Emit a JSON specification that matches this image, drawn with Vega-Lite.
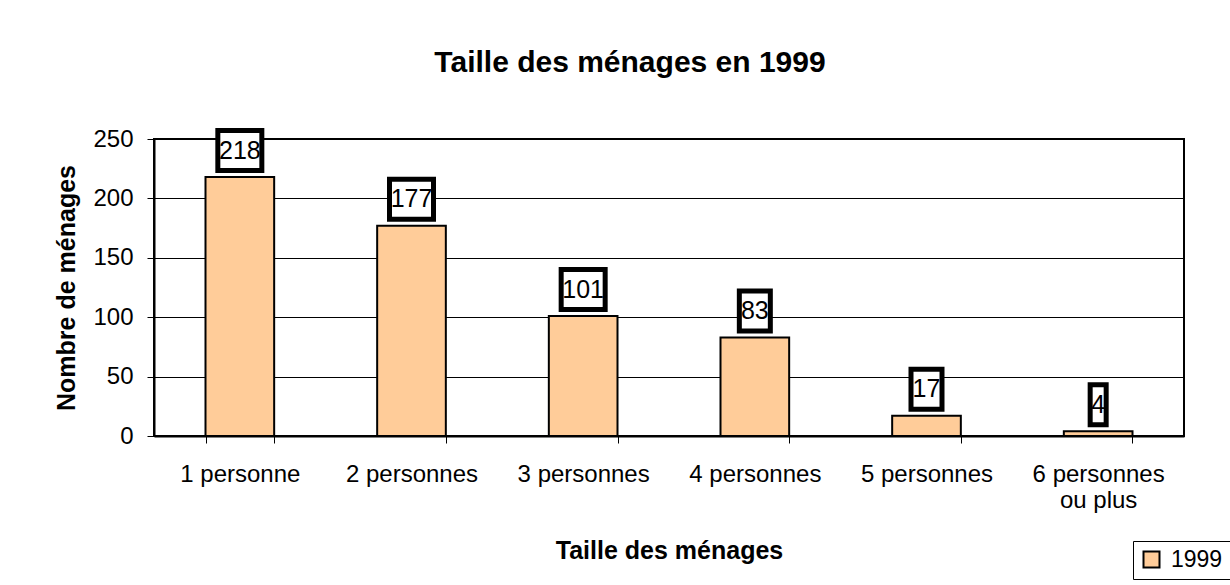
{
  "$schema": "https://vega.github.io/schema/vega-lite/v6.json",
  "width": 1030,
  "height": 297,
  "autosize": {"type": "none"},
  "padding": {"left": 154, "top": 139, "right": 46, "bottom": 149},
  "background": "white",
  "config": {"font": "Liberation Sans", "view": {"stroke": "black", "strokeWidth": 2}},
  "title": {"text": "Taille des ménages en 1999", "fontSize": 30, "fontWeight": "bold", "font": "Liberation Sans", "color": "black", "anchor": "middle", "frame": "group", "dx": -39, "offset": 25, "baseline": "alphabetic"},
  "data": {"values": [
    {"taille": "1 personne", "menages": 218, "annee": "1999"},
    {"taille": "2 personnes", "menages": 177, "annee": "1999"},
    {"taille": "3 personnes", "menages": 101, "annee": "1999"},
    {"taille": "4 personnes", "menages": 83, "annee": "1999"},
    {"taille": "5 personnes", "menages": 17, "annee": "1999"},
    {"taille": "6 personnes ou plus", "menages": 4, "annee": "1999"}
  ]},
  "encoding": {
    "x": {"field": "taille", "type": "nominal", "sort": null,
      "scale": {"paddingInner": 0.6, "paddingOuter": 0.3},
      "axis": {"title": "Taille des ménages", "titleFontSize": 25, "titleFontWeight": "bold", "titleColor": "black", "titleY": 122, "titleBaseline": "alphabetic",
        "labelFontSize": 24, "labelColor": "black", "labelAngle": 0, "labelPadding": 19, "labelLineHeight": 26,
        "labelExpr": "datum.value == '6 personnes ou plus' ? ['6 personnes', 'ou plus'] : datum.value",
        "tickSize": 7, "tickColor": "black", "tickBand": "extent", "domainColor": "black", "domainWidth": 2, "grid": false}},
    "y": {"field": "menages", "type": "quantitative",
      "scale": {"domain": [0, 250], "nice": false},
      "axis": {"title": "Nombre de ménages", "titleFontSize": 25, "titleFontWeight": "bold", "titleColor": "black", "titleX": -80, "titleBaseline": "alphabetic",
        "values": [0, 50, 100, 150, 200, 250], "labelFontSize": 24, "labelColor": "black", "labelPadding": 14,
        "tickSize": 7, "tickColor": "black", "domainColor": "black", "domainWidth": 2, "grid": true, "gridColor": "black", "gridWidth": 1}}
  },
  "layer": [
    {"mark": {"type": "bar", "stroke": "black", "strokeWidth": 2},
     "encoding": {"color": {"field": "annee", "type": "nominal", "scale": {"range": ["#FFCC99"]},
       "legend": {"title": null, "orient": "none", "legendX": 979, "legendY": 402, "strokeColor": "black", "fillColor": "white", "padding": 7,
         "symbolType": "square", "symbolSize": 256, "symbolStrokeColor": "black", "symbolStrokeWidth": 2, "labelFontSize": 23, "labelColor": "black", "labelOffset": 8}}}},
    {"transform": [{"filter": "datum.menages >= 100"}],
     "mark": {"type": "bar", "width": 44, "fill": "white", "stroke": "black", "strokeWidth": 5, "yOffset": -6.5, "y2Offset": -46.5},
     "encoding": {"y2": {"field": "menages"}}},
    {"transform": [{"filter": "datum.menages >= 10 && datum.menages < 100"}],
     "mark": {"type": "bar", "width": 31, "fill": "white", "stroke": "black", "strokeWidth": 5, "yOffset": -6.5, "y2Offset": -46.5},
     "encoding": {"y2": {"field": "menages"}}},
    {"transform": [{"filter": "datum.menages < 10"}],
     "mark": {"type": "bar", "width": 16, "fill": "white", "stroke": "black", "strokeWidth": 5, "yOffset": -6.5, "y2Offset": -46.5},
     "encoding": {"y2": {"field": "menages"}}},
    {"mark": {"type": "text", "fontSize": 25, "color": "black", "baseline": "middle", "yOffset": -26.5},
     "encoding": {"text": {"field": "menages", "type": "quantitative"}}}
  ]
}
